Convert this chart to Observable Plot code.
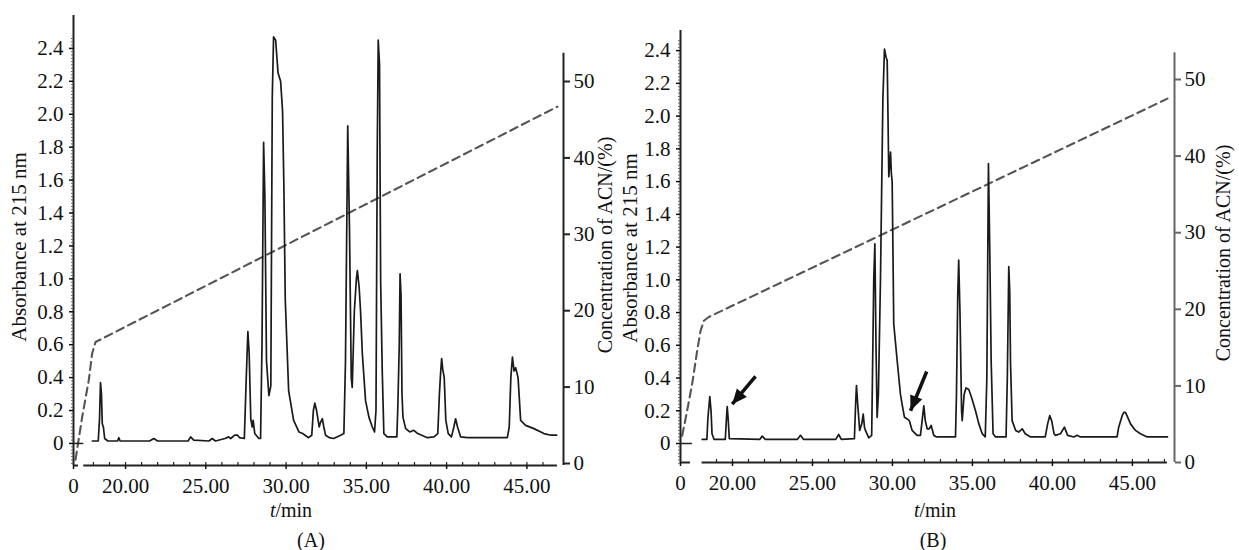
<!DOCTYPE html>
<html><head><meta charset="utf-8">
<script src="https://cdn.jsdelivr.net/npm/d3@7"></script>
<script src="https://cdn.jsdelivr.net/npm/@observablehq/plot@0.6"></script>
<style>
html,body{margin:0;padding:0;background:#fff;}
#wrap{position:relative;width:1239px;height:550px;overflow:hidden;font-family:'Liberation Serif', serif;color:#111;}
.panel{position:absolute;top:0;}
.cap{position:absolute;top:529px;width:100px;text-align:center;font-size:20px;line-height:22px;}
</style></head><body>
<div id="wrap">
  <div class="cap" style="left:261px">(A)</div>
  <div class="cap" style="left:883px">(B)</div>
  <div id="pA" class="panel" style="left:0"></div>
  <div id="pB" class="panel" style="left:600px"></div>
</div>
<script>
// ---------- tick labels ----------
const absTicks = [0, 0.2, 0.4, 0.6, 0.8, 1.0, 1.2, 1.4, 1.6, 1.8, 2.0, 2.2, 2.4];
const acnTicks = [0, 10, 20, 30, 40, 50];
const timeTicks = [0, 20, 25, 30, 35, 40, 45];
const timeTickLabels = ["0", "20.00", "25.00", "30.00", "35.00", "40.00", "45.00"];

// ---------- panel A : chromatogram (t/min, absorbance at 215 nm) ----------
const timeA = [17.93,18.30,18.38,18.44,18.50,18.55,18.62,18.70,18.90,19.50,19.58,19.66,21.50,21.76,22.00,23.90,24.05,24.25,25.20,25.40,25.60,26.20,26.42,26.55,26.80,26.98,27.10,27.40,27.52,27.62,27.70,27.80,27.89,27.95,28.05,28.30,28.41,28.50,28.60,28.68,28.78,28.93,29.05,29.14,29.22,29.35,29.50,29.66,29.78,29.86,29.95,30.16,30.47,30.80,31.03,31.40,31.60,31.70,31.79,31.90,32.06,32.15,32.26,32.35,32.46,32.70,32.96,33.40,33.60,33.70,33.84,33.95,34.06,34.12,34.25,34.38,34.44,34.55,34.64,34.75,34.95,35.16,35.37,35.51,35.60,35.68,35.74,35.82,35.89,35.99,36.09,36.30,36.90,36.96,37.05,37.10,37.16,37.22,37.28,37.45,37.70,37.96,38.20,38.80,39.21,39.45,39.55,39.62,39.69,39.76,39.85,39.95,40.10,40.30,40.45,40.56,40.68,40.87,41.29,43.78,43.90,44.00,44.10,44.20,44.30,44.45,44.61,44.92,45.44,46.06,46.50,46.85];
const absA = [0.015,0.015,0.15,0.37,0.30,0.12,0.10,0.03,0.015,0.015,0.035,0.015,0.015,0.03,0.015,0.015,0.04,0.02,0.015,0.03,0.015,0.03,0.04,0.03,0.05,0.05,0.035,0.03,0.40,0.68,0.55,0.15,0.10,0.14,0.06,0.03,0.03,0.60,1.83,1.50,0.50,0.29,0.35,2.10,2.47,2.45,2.25,2.20,2.02,1.58,0.87,0.32,0.14,0.07,0.06,0.035,0.05,0.20,0.245,0.20,0.10,0.13,0.15,0.10,0.05,0.035,0.03,0.05,0.06,0.50,1.93,1.30,0.40,0.34,0.80,1.00,1.05,0.95,0.80,0.545,0.26,0.16,0.10,0.07,0.20,1.80,2.45,2.30,0.99,0.44,0.06,0.04,0.04,0.22,0.60,1.03,0.90,0.30,0.16,0.09,0.07,0.08,0.06,0.035,0.04,0.06,0.30,0.42,0.515,0.45,0.40,0.14,0.06,0.04,0.10,0.15,0.10,0.04,0.035,0.035,0.10,0.40,0.525,0.44,0.46,0.40,0.14,0.11,0.09,0.06,0.05,0.05];
// ACN gradient (dashed), t/min and %
const gradTimeA = [3.4, 14.7, 17.71, 17.92, 18.13, 46.9];
const gradAcnA  = [0.5, 6.1, 10.9, 14.4, 15.9, 46.7];

// ---------- panel B ----------
const timeB = [18.11,18.40,18.46,18.58,18.66,18.72,18.85,19.55,19.62,19.67,19.73,19.80,21.70,21.86,22.05,24.05,24.25,24.45,26.45,26.64,26.80,27.62,27.70,27.75,27.82,27.95,28.08,28.17,28.25,28.31,28.52,28.70,28.83,28.90,28.97,29.04,29.12,29.25,29.40,29.50,29.60,29.67,29.72,29.77,29.83,29.88,29.93,29.98,30.03,30.08,30.29,30.50,30.62,30.75,30.92,31.05,31.23,31.54,31.75,31.90,31.96,32.05,32.17,32.30,32.42,32.58,32.75,33.94,34.00,34.08,34.14,34.22,34.32,34.36,34.48,34.60,34.77,34.95,35.19,35.40,35.61,35.80,35.90,36.00,36.08,36.17,36.29,36.45,37.10,37.18,37.27,37.33,37.38,37.48,37.70,37.89,38.11,38.30,38.63,39.55,39.70,39.83,39.95,40.10,40.19,40.50,40.75,40.95,41.35,41.54,41.75,44.04,44.14,44.36,44.46,44.56,44.66,44.88,45.19,45.50,45.92,47.19];
const absB = [0.025,0.025,0.15,0.287,0.20,0.06,0.025,0.025,0.15,0.226,0.15,0.03,0.025,0.045,0.025,0.025,0.05,0.025,0.025,0.055,0.025,0.03,0.25,0.354,0.25,0.08,0.12,0.18,0.10,0.08,0.035,0.05,1.00,1.22,0.60,0.16,0.30,1.00,2.10,2.41,2.36,2.34,2.00,1.63,1.71,1.78,1.65,1.60,1.18,0.73,0.51,0.30,0.23,0.16,0.15,0.14,0.08,0.05,0.05,0.18,0.23,0.14,0.09,0.09,0.11,0.05,0.04,0.04,0.30,0.90,1.12,0.80,0.20,0.14,0.30,0.34,0.33,0.28,0.20,0.12,0.06,0.04,0.40,1.71,1.20,0.50,0.06,0.04,0.04,0.40,1.08,0.93,0.49,0.14,0.08,0.07,0.09,0.06,0.04,0.04,0.12,0.17,0.14,0.06,0.05,0.06,0.10,0.05,0.04,0.05,0.04,0.04,0.10,0.17,0.19,0.19,0.17,0.12,0.08,0.06,0.04,0.04];
const gradTimeB = [1.4, 5.6, 9.8, 14.0, 16.8, 18.21, 18.52, 47.19];
const gradAcnB  = [3.5, 6.8, 10.3, 14.6, 17.2, 18.5, 19.0, 47.5];
// arrows marking the new peaks in B (tail -> head), t/min and absorbance
const arrowTailTimeB = [21.44, 32.14];
const arrowTailAbsB  = [0.41, 0.44];
const arrowHeadTimeB = [19.98, 31.13];
const arrowHeadAbsB  = [0.24, 0.20];

// ---------- layout ----------
const layoutA = {
  el: "pA", width: 620, height: 525,
  xDomain: [0, 17.4, 47.28], xRange: [73, 83.3, 563],
  yDomain: [-0.134, 2.6], yRange: [465, 15],
  acnRange: [463, 81], acnTop: 53.7,
  axisPiece1: [0, 8.4], axisPiece2: [17.4, 46.9], zeroDashEnd: 17.4,
  minorX: d3.range(18, 47, 1), rightColor: "#222",
  leftTitle: [19, 247], rightTitle: [606, 245], xTitle: [291, 511]
};
const layoutB = {
  el: "pB", width: 639, height: 525,
  xDomain: [0, 18.1, 47.63], xRange: [80, 101.6, 574],
  yDomain: [-0.116, 2.523], yRange: [462, 30],
  acnRange: [462, 79], acnTop: 53.5,
  axisPiece1: [0, 8.4], axisPiece2: [18.1, 47.19], zeroDashEnd: 10,
  minorX: d3.range(19, 48, 1), rightColor: "#666",
  leftTitle: [30, 248], rightTitle: [624, 253], xTitle: [335, 511]
};

function drawPanel(L, D) {
  const pxToAbs = d3.scaleLinear().domain(L.yRange).range(L.yDomain);
  const acnToPx = d3.scaleLinear().domain([0, 50]).range(L.acnRange);
  const acnToAbs = c => pxToAbs(acnToPx(c));
  const absToAcn = a => acnToPx.invert(pxToAbs.invert(a));
  const trace = D.time.map((t, i) => ({t, a: D.abs[i]}));
  const grad = D.gradTime.map((t, i) => ({t, a: acnToAbs(D.gradAcn[i])}));
  const [yMin, yMax] = L.yDomain;
  const xMax = L.xDomain[L.xDomain.length - 1];
  const frameH = L.yRange[0] - L.yRange[1];
  const minorY = d3.range(0, 130).map(i => -0.12 + i * 0.02).filter(v => v < yMax);
  const axisStroke = "#222";
  const marks = [
    Plot.line(grad, {x: "t", y: "a", stroke: "#555", strokeWidth: 2.1, strokeDasharray: "8,5"}),
    Plot.line(trace, {x: "t", y: "a", stroke: "#1a1a1a", strokeWidth: 1.7}),
    // left axis
    Plot.ruleX([0], {y1: yMin, y2: yMax, stroke: axisStroke, strokeWidth: 2}),
    Plot.axisY(minorY, {anchor: "left", tickSize: 2, stroke: "#666", fill: "none", label: null}),
    Plot.axisY(absTicks, {anchor: "left", tickSize: 4, tickPadding: 6, strokeWidth: 1.5,
      tickFormat: d => d === 0 ? "0" : d.toFixed(1), label: null}),
    Plot.ruleY([0], {x1: 0, x2: L.zeroDashEnd, stroke: axisStroke, strokeWidth: 1.5}),
    // right axis (ACN)
    Plot.ruleX([xMax], {y1: yMin, y2: acnToAbs(L.acnTop), stroke: L.rightColor, strokeWidth: 2}),
    Plot.axisY(acnTicks.map(acnToAbs), {anchor: "right", tickSize: 6, tickPadding: 4, strokeWidth: 2,
      stroke: L.rightColor, tickFormat: d => String(Math.round(absToAcn(d))), label: null}),
    // bottom axis
    Plot.ruleY([yMin], {x1: L.axisPiece1[0], x2: L.axisPiece1[1], stroke: axisStroke, strokeWidth: 2}),
    Plot.ruleY([yMin], {x1: L.axisPiece2[0], x2: L.axisPiece2[1], stroke: axisStroke, strokeWidth: 2}),
    Plot.ruleX(L.minorX, {insetTop: frameH - 3, stroke: axisStroke, strokeWidth: 1.2}),
    Plot.axisX(timeTicks, {anchor: "bottom", tickSize: 4, tickPadding: 9, strokeWidth: 1.5,
      tickFormat: d => timeTickLabels[timeTicks.indexOf(d)], label: null})
  ];
  if (D.arrows) {
    const xs = d3.scaleLinear().domain(L.xDomain).range(L.xRange);
    const ys = d3.scaleLinear().domain(L.yDomain).range(L.yRange);
    const arrows = D.arrows.map(d => ({...d,
      rot: Math.atan2(xs(d.t2) - xs(d.t1), -(ys(d.a2) - ys(d.a1))) * 180 / Math.PI}));
    marks.push(Plot.link(arrows, {x1: "t1", y1: "a1", x2: "t2", y2: "a2", stroke: "#111", strokeWidth: 3.5}));
    marks.push(Plot.vector(arrows, {x: "t2", y: "a2", rotate: "rot", length: 15, anchor: "end",
      shape: "spike", r: 6.5, fill: "#111", stroke: "none"}));
  }
  const svg = Plot.plot({
    width: L.width, height: L.height,
    marginLeft: L.xRange[0], marginRight: L.width - L.xRange[L.xRange.length - 1],
    marginTop: L.yRange[1], marginBottom: L.height - L.yRange[0],
    style: {fontFamily: "'Liberation Serif', serif", fontSize: "21px", color: "#111", background: "transparent"},
    x: {type: "linear", domain: L.xDomain, range: L.xRange, axis: null},
    y: {type: "linear", domain: L.yDomain, range: L.yRange, axis: null},
    marks
  });
  const s = d3.select(svg);
  s.append("text").attr("transform", `translate(${L.leftTitle[0]},${L.leftTitle[1]}) rotate(-90)`)
    .attr("text-anchor", "middle").attr("dy", "0.32em")
    .attr("font-family", "Liberation Serif").attr("font-size", 21).attr("fill", "#111")
    .text("Absorbance at 215 nm");
  s.append("text").attr("transform", `translate(${L.rightTitle[0]},${L.rightTitle[1]}) rotate(-90)`)
    .attr("text-anchor", "middle").attr("dy", "0.32em")
    .attr("font-family", "Liberation Serif").attr("font-size", 20).attr("fill", "#111")
    .text("Concentration of ACN/(%)");
  const xt = s.append("text").attr("x", L.xTitle[0]).attr("y", L.xTitle[1]).attr("dy", "0.32em")
    .attr("text-anchor", "middle")
    .attr("font-family", "Liberation Serif").attr("font-size", 20).attr("fill", "#111");
  xt.append("tspan").attr("font-style", "italic").text("t");
  xt.append("tspan").text("/min");
  document.getElementById(L.el).appendChild(svg);
}

drawPanel(layoutA, {time: timeA, abs: absA, gradTime: gradTimeA, gradAcn: gradAcnA});
drawPanel(layoutB, {time: timeB, abs: absB, gradTime: gradTimeB, gradAcn: gradAcnB,
  arrows: arrowTailTimeB.map((t, i) => ({t1: t, a1: arrowTailAbsB[i], t2: arrowHeadTimeB[i], a2: arrowHeadAbsB[i]}))});
</script>
</body></html>
